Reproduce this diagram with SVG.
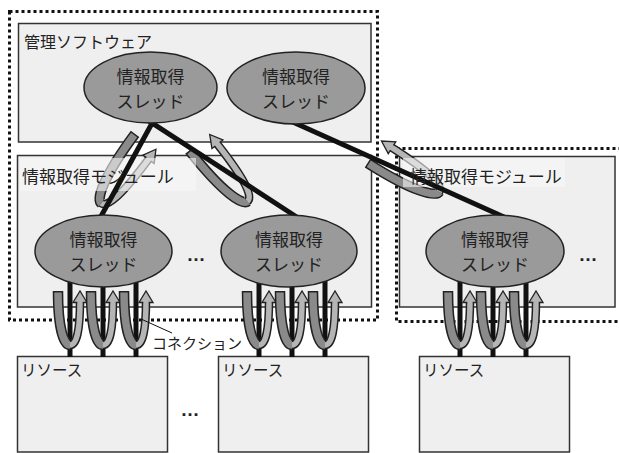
<svg xmlns="http://www.w3.org/2000/svg" width="619" height="453" viewBox="0 0 619 453">
<style>
.dot{fill:none;stroke:#111;stroke-width:3;stroke-dasharray:3 3}
.box{fill:#efefef;stroke:#333;stroke-width:1.5}
.th{fill:#9a9a9a;stroke:#222;stroke-width:1.5}
text{font-family:"Noto Sans CJK JP","Noto Sans CJK SC",sans-serif;fill:#222}
.tm{text-anchor:middle;font-size:17px}
.ln{stroke:#111;stroke-width:5;fill:none}
.thin{stroke:#111;stroke-width:1;fill:none}
.ko{fill:none;stroke:#222;stroke-width:10.5}
.kd{fill:none;stroke:#8a8a8a;stroke-width:7.5}
.lo{fill:none;stroke:#222;stroke-width:8.5}
.ld{fill:none;stroke:#b5b5b5;stroke-width:5.5}
.ah{fill:#b5b5b5;stroke:#222;stroke-width:1.3;stroke-linejoin:miter}
.fade{fill:#f6f6f6;fill-opacity:0.6}
.dots{font-family:"Liberation Sans",Arial,sans-serif;font-weight:bold;font-size:19px;text-anchor:middle;fill:#222}
</style>
<defs>
<g id="bl">
<path class="ko" d="M-12,0 C-12,38 -6,54 0,54"/>
<path class="kd" d="M-12,1.5 C-12,38 -6,54 0,54"/>
<path class="lo" d="M0,54 C7,54 10,38 10,10"/>
<path class="ld" d="M0,54 C7,54 10,38 10,10"/>
<path class="ah" d="M7.25,11.5 L3,11.5 L10,0 L17,11.5 L12.75,11.5"/>
</g>
<g id="tl">
<path class="ko" d="M-14,0 C-14,55 -6,76 0,76"/>
<path class="kd" d="M-14,1.5 C-14,55 -6,76 0,76"/>
<path class="lo" d="M0,76 C8,76 12,55 12,11"/>
<path class="ld" d="M0,76 C8,76 12,55 12,11"/>
<path class="ah" d="M9.25,12.5 L5,12.5 L12,0 L19,12.5 L14.75,12.5"/>
</g>
</defs>

<g id="frame-left"><rect class="dot" x="9.5" y="11.5" width="368" height="308.5"/></g>
<g id="frame-right"><rect class="dot" x="396.5" y="148.5" width="240" height="173"/></g>

<g id="mgmt-software"><rect class="box" x="18.5" y="23.5" width="352.5" height="118.5"/>
<text x="24" y="48" font-size="16">管理ソフトウェア</text></g>
<g id="module-1"><rect class="box" x="17.5" y="155.5" width="354" height="151.5"/></g>
<g id="module-2"><rect class="box" x="399.5" y="156.5" width="215.5" height="150.5"/></g>
<g id="resource-1"><rect class="box" x="17.5" y="356.5" width="150" height="95.5"/>
<text x="21" y="376" font-size="15.5">リソース</text></g>
<g id="resource-2"><rect class="box" x="218.5" y="356.5" width="150" height="95.5"/>
<text x="222" y="376" font-size="15.5">リソース</text></g>
<g id="resource-3"><rect class="box" x="419.5" y="356.5" width="150" height="95.5"/>
<text x="423" y="376" font-size="15.5">リソース</text></g>

<g id="connectors">
<use href="#tl" transform="translate(145.5,141.5) rotate(36.5) translate(1,0)"/>
<use href="#tl" transform="translate(199.5,142.5) rotate(-38.3) translate(1,0)"/>
<use href="#tl" transform="translate(374.5,152) rotate(-57.6) translate(1,0)"/>
<rect class="fade" x="20" y="158" width="176" height="33"/>
<rect class="fade" x="403" y="158" width="162" height="29"/>
<line class="ln" x1="156" y1="116" x2="99" y2="220"/>
<line class="ln" x1="145.3" y1="118.6" x2="299" y2="218.5"/>
<line class="ln" x1="287.7" y1="119.7" x2="504" y2="217"/>
<line class="ln" x1="70" y1="262" x2="70" y2="357"/>
<line class="ln" x1="103" y1="262" x2="103" y2="357"/>
<line class="ln" x1="136" y1="262" x2="136" y2="357"/>
<line class="ln" x1="259" y1="262" x2="259" y2="357"/>
<line class="ln" x1="292" y1="262" x2="292" y2="357"/>
<line class="ln" x1="325" y1="262" x2="325" y2="357"/>
<line class="ln" x1="460" y1="262" x2="460" y2="357"/>
<line class="ln" x1="493" y1="262" x2="493" y2="357"/>
<line class="ln" x1="526" y1="262" x2="526" y2="357"/>
<use href="#bl" transform="translate(70,291)"/>
<use href="#bl" transform="translate(103,291)"/>
<use href="#bl" transform="translate(136,291)"/>
<use href="#bl" transform="translate(259,291)"/>
<use href="#bl" transform="translate(292,291)"/>
<use href="#bl" transform="translate(325,291)"/>
<use href="#bl" transform="translate(460,291)"/>
<use href="#bl" transform="translate(493,291)"/>
<use href="#bl" transform="translate(526,291)"/>
<line class="thin" x1="141" y1="319" x2="172" y2="333"/>
<text x="152" y="349" font-size="15">コネクション</text>
</g>

<g id="module-1-label"><text x="22" y="183" font-size="17">情報取得モジュール</text></g>
<g id="module-2-label"><text x="410" y="183" font-size="17">情報取得モジュール</text></g>

<g id="mgmt-thread-1"><ellipse class="th" cx="150.5" cy="87.5" rx="66.5" ry="35.5"/>
<text class="tm" x="150.5" y="83">情報取得</text><text class="tm" x="150.5" y="108">スレッド</text></g>
<g id="mgmt-thread-2"><ellipse class="th" cx="296" cy="88" rx="69" ry="36"/>
<text class="tm" x="296" y="83">情報取得</text><text class="tm" x="296" y="108">スレッド</text></g>
<g id="module-thread-1"><ellipse class="th" cx="103.5" cy="251" rx="68.5" ry="36"/>
<text class="tm" x="103.5" y="246">情報取得</text><text class="tm" x="103.5" y="271">スレッド</text></g>
<g id="module-thread-2"><ellipse class="th" cx="289" cy="251" rx="68" ry="36"/>
<text class="tm" x="289" y="246">情報取得</text><text class="tm" x="289" y="271">スレッド</text></g>
<g id="module-thread-3"><ellipse class="th" cx="495" cy="251" rx="69" ry="36"/>
<text class="tm" x="495" y="246">情報取得</text><text class="tm" x="495" y="271">スレッド</text></g>

<text class="dots" x="196" y="261">…</text>
<text class="dots" x="588" y="261">…</text>
<text class="dots" x="190" y="416">…</text>
</svg>
